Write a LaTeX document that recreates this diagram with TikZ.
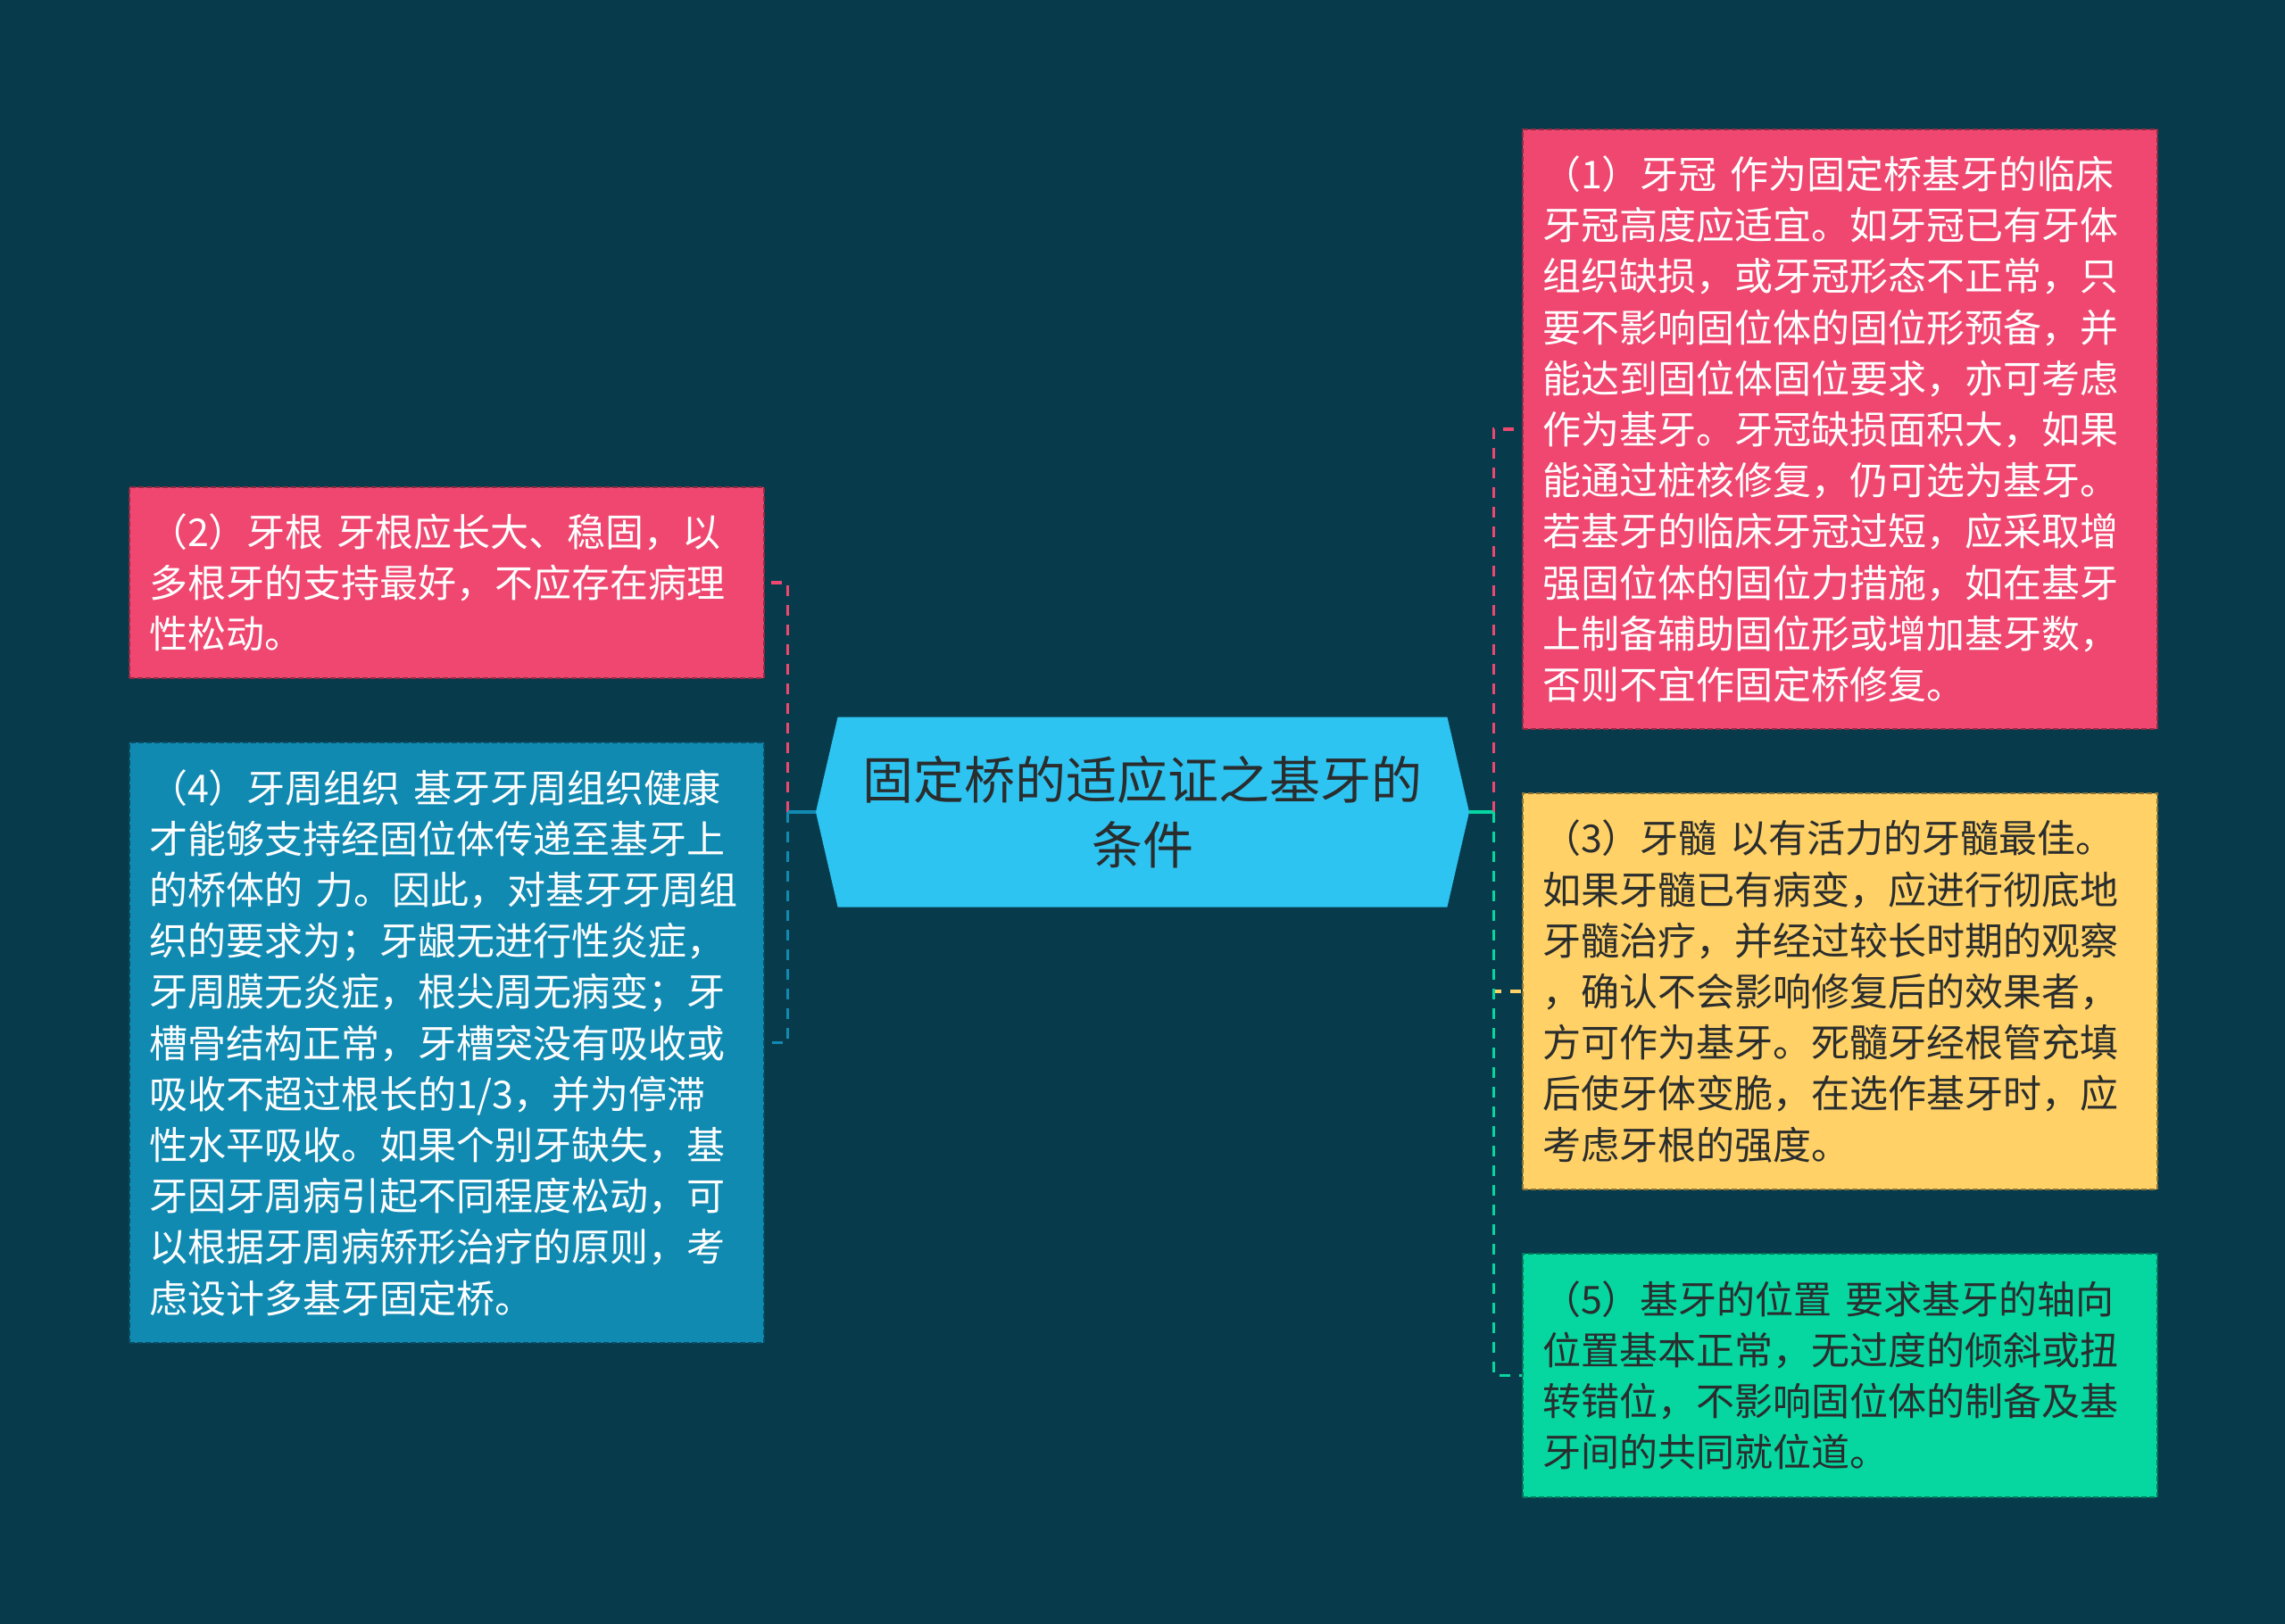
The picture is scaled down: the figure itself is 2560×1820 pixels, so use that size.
\documentclass[tikz,border=0pt]{standalone}
\usepackage{fontspec}
\setmainfont{Noto Sans CJK SC}
\usetikzlibrary{positioning,shapes.symbols}
\definecolor{bgc}{HTML}{073B4C}
\definecolor{rosec}{HTML}{EF476F}
\definecolor{sunc}{HTML}{FFD166}
\definecolor{mintc}{HTML}{06D6A0}
\definecolor{seac}{HTML}{118AB2}
\definecolor{skyc}{HTML}{2EC4F2}
\definecolor{inkc}{HTML}{2A2D2E}

\begin{document}
\begin{tikzpicture}[
	x=0.5pt,
	y=-0.5pt,
	link/.style={
		line width=1.6pt,
		dash pattern=on 6pt off 5pt
	},
	topic/.style={
		shape=signal,
		signal to=west and east,
		signal pointer angle=154,
		fill=skyc,
		text=inkc,
		minimum width=366pt,
		minimum height=106.5pt,
		align=center,
		font=\fontsize{28.5}{36.5}\selectfont
	},
	card/.style={
		rectangle,
		anchor=north west,
		align=left,
		inner xsep=11pt,
		text width=333.5pt,
		line width=1pt,
		dash pattern=on 3pt off 1.5pt,
		font=\fontsize{21.5}{28.6}\selectfont
	}]

	\fill[bgc] (0,0) rectangle (2560,1820);

	\node[topic] (n_0) at (1280,910) {固定桥的适应证之基牙的\\条件};

	\node[card, fill=rosec, draw=rosec!60!black, text=white, minimum height=336pt] (n_1) at (1705,144)
		{（1）牙冠 作为固定桥基牙的临床\\牙冠高度应适宜。如牙冠已有牙体\\组织缺损，或牙冠形态不正常，只\\要不影响固位体的固位形预备，并\\能达到固位体固位要求，亦可考虑\\作为基牙。牙冠缺损面积大，如果\\能通过桩核修复，仍可选为基牙。\\若基牙的临床牙冠过短，应采取增\\强固位体的固位力措施，如在基牙\\上制备辅助固位形或增加基牙数，\\否则不宜作固定桥修复。};
	\node[card, fill=rosec, draw=rosec!60!black, text=white, minimum height=107pt] (n_2) at (144,545)
		{（2）牙根 牙根应长大、稳固，以\\多根牙的支持最好，不应存在病理\\性松动。};
	\node[card, fill=sunc, draw=sunc!55!black, text=inkc, minimum height=222pt] (n_3) at (1705,888)
		{（3）牙髓 以有活力的牙髓最佳。\\如果牙髓已有病变，应进行彻底地\\牙髓治疗，并经过较长时期的观察\\，确认不会影响修复后的效果者，\\方可作为基牙。死髓牙经根管充填\\后使牙体变脆，在选作基牙时，应\\考虑牙根的强度。};
	\node[card, fill=seac, draw=seac!55!black, text=white, minimum height=336.5pt] (n_4) at (144,831)
		{（4）牙周组织 基牙牙周组织健康\\才能够支持经固位体传递至基牙上\\的桥体的 力。因此，对基牙牙周组\\织的要求为；牙龈无进行性炎症，\\牙周膜无炎症，根尖周无病变；牙\\槽骨结构正常，牙槽突没有吸收或\\吸收不超过根长的1/3，并为停滞\\性水平吸收。如果个别牙缺失，基\\牙因牙周病引起不同程度松动，可\\以根据牙周病矫形治疗的原则，考\\虑设计多基牙固定桥。};
	\node[card, fill=mintc, draw=mintc!55!black, text=inkc, minimum height=136.5pt] (n_5) at (1705,1404)
		{（5）基牙的位置 要求基牙的轴向\\位置基本正常，无过度的倾斜或扭\\转错位，不影响固位体的制备及基\\牙间的共同就位道。};

	\coordinate (r_j) at ([xshift=13.5pt]n_0.east);
	\coordinate (l_j) at ([xshift=-15.5pt]n_0.west);

	\draw[link, rosec] (r_j) |- (n_1.west);
	\draw[link, sunc] (r_j) |- (n_3.west);
	\draw[link, mintc] (r_j) |- (n_5.west);
	\draw[line width=1.6pt, mintc] (n_0.east) -- (r_j);
	\draw[link, rosec] (l_j) |- (n_2.east);
	\draw[link, seac] (l_j) |- (n_4.east);
	\draw[line width=1.6pt, seac] (n_0.west) -- (l_j);
\end{tikzpicture}
\end{document}
